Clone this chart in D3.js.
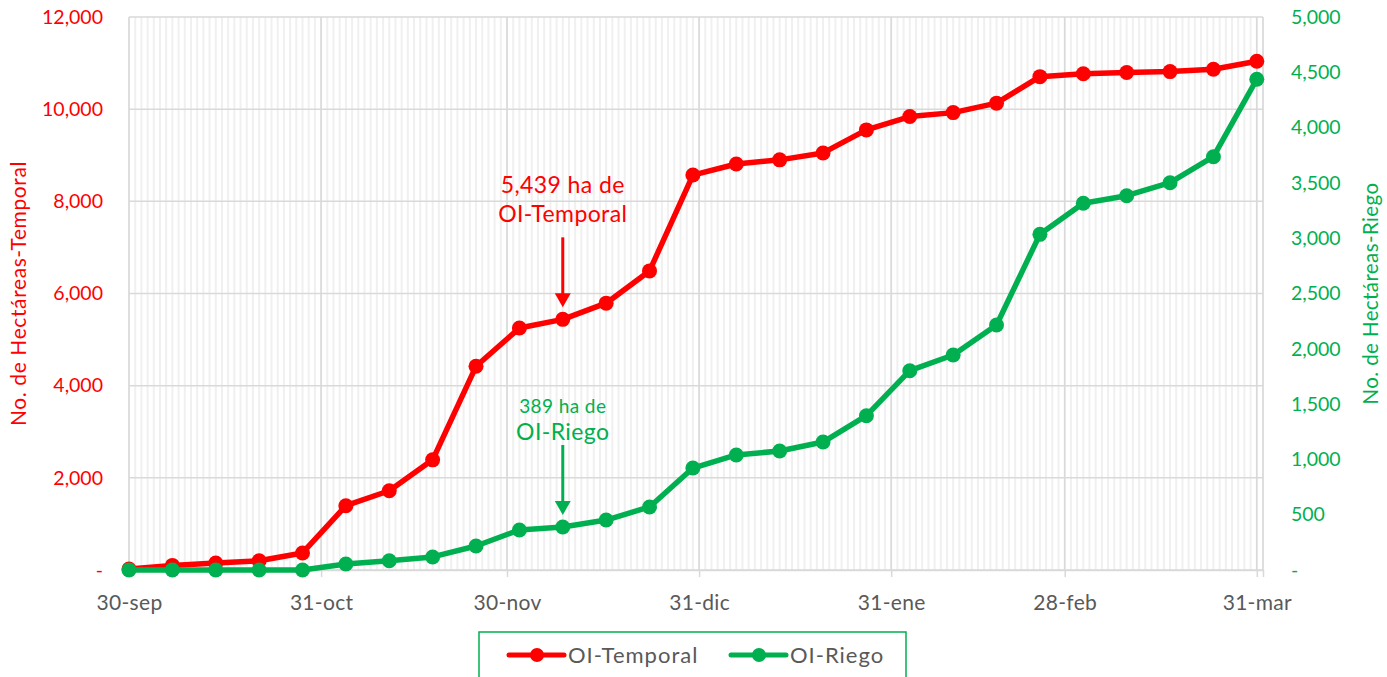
<!DOCTYPE html>
<html>
<head>
<meta charset="utf-8">
<script src="https://cdn.jsdelivr.net/npm/d3@7"></script>
<style>
  body { margin: 0; background: #fff; }
  svg text { font-family: Lato, "Noto Sans", sans-serif; }
</style>
</head>
<body>
<svg id="chart" width="1387" height="677"></svg>
<script>
// weekly cut-off dates of the season
const dates = ['2020-09-30','2020-10-07','2020-10-14','2020-10-21','2020-10-28','2020-11-04','2020-11-11',
  '2020-11-18','2020-11-25','2020-12-02','2020-12-09','2020-12-16','2020-12-23','2020-12-30',
  '2021-01-06','2021-01-13','2021-01-20','2021-01-27','2021-02-03','2021-02-10','2021-02-17',
  '2021-02-24','2021-03-03','2021-03-10','2021-03-17','2021-03-24','2021-03-31'];
const temporal = [20, 100, 150, 200, 370, 1395, 1720, 2390, 4420, 5250, 5439, 5790, 6490, 8570,
  8810, 8900, 9050, 9550, 9840, 9925, 10130, 10705, 10770, 10795, 10815, 10865, 11040];
const riego = [0, 0, 0, 0, 0, 54, 84, 118, 217, 362, 389, 452, 570, 922,
  1040, 1076, 1157, 1395, 1802, 1944, 2215, 3035, 3316, 3384, 3502, 3737, 4437];
const xTickDates = ['2020-09-30','2020-10-31','2020-11-30','2020-12-31','2021-01-31','2021-02-28','2021-03-31'];
const xTickLabels = ['30-sep','31-oct','30-nov','31-dic','31-ene','28-feb','31-mar'];
const leftTicks = [0, 2000, 4000, 6000, 8000, 10000, 12000];
const rightTicks = [0, 500, 1000, 1500, 2000, 2500, 3000, 3500, 4000, 4500, 5000];
const seriesNames = ['OI-Temporal', 'OI-Riego'];
const notes = [
  {series: 0, index: 10, lines: ['5,439 ha de', 'OI-Temporal']},
  {series: 1, index: 10, lines: ['389 ha de', 'OI-Riego']}
];

const RED = '#FF0000', GREEN = '#00B050', GREY = '#595959';
const parse = d3.timeParse('%Y-%m-%d');
const svg = d3.select('#chart');
const margin = {top: 17, left: 129, right: 124, bottom: 107};
const W = 1387 - margin.left - margin.right, H = 677 - margin.top - margin.bottom;
const g = svg.append('g').attr('transform', `translate(${margin.left},${margin.top})`);

const x = d3.scaleTime().domain([parse('2020-09-30'), parse('2021-04-01')]).range([0, W]);
const yL = d3.scaleLinear().domain([0, 12000]).range([H, 0]);
const yR = d3.scaleLinear().domain([0, 5000]).range([H, 0]);
const fmt = v => v === 0 ? '-' : d3.format(',')(v);

// daily minor gridlines
g.append('g').selectAll('line')
  .data(d3.timeDay.range(x.domain()[0], d3.timeDay.offset(x.domain()[1], 1)))
  .join('line')
  .attr('x1', d => x(d)).attr('x2', d => x(d)).attr('y1', 0).attr('y2', H)
  .attr('stroke', '#F0F0F0').attr('stroke-width', 2);

// horizontal gridlines
g.append('g').selectAll('line').data(leftTicks).join('line')
  .attr('x1', 0).attr('x2', W).attr('y1', d => yL(d)).attr('y2', d => yL(d))
  .attr('stroke', '#D9D9D9').attr('stroke-width', 1.5);

// major month gridlines
const majors = xTickDates.map(parse);
g.append('g').selectAll('line').data(majors.concat([x.domain()[1]])).join('line')
  .attr('x1', d => x(d)).attr('x2', d => x(d)).attr('y1', 0).attr('y2', H)
  .attr('stroke', '#D9D9D9').attr('stroke-width', 1.5);

// x axis
const xAxis = g.append('g').attr('transform', `translate(0,${H})`)
  .call(d3.axisBottom(x).tickValues(majors).tickFormat((d, i) => xTickLabels[i]).tickSize(7).tickPadding(18));
xAxis.select('.domain').attr('stroke', '#D9D9D9').attr('stroke-width', 1.5);
xAxis.selectAll('.tick line').attr('stroke', '#D9D9D9').attr('stroke-width', 1.5);
xAxis.selectAll('text').attr('fill', GREY).style('font-size', '21px').style('letter-spacing', '0.3px');

// left axis
const lAxis = g.append('g')
  .call(d3.axisLeft(yL).tickValues(leftTicks).tickFormat(fmt).tickSize(0).tickPadding(26));
lAxis.select('.domain').remove();
lAxis.selectAll('text').attr('fill', RED).style('font-size', '19.5px');

// right axis
const rAxis = g.append('g').attr('transform', `translate(${W},0)`)
  .call(d3.axisRight(yR).tickValues(rightTicks).tickFormat(fmt).tickSize(0).tickPadding(28));
rAxis.select('.domain').remove();
rAxis.selectAll('text').attr('fill', GREEN).style('font-size', '19.5px');

// axis titles
svg.append('text').attr('transform', `translate(26,${margin.top + H / 2}) rotate(-90)`)
  .attr('text-anchor', 'middle').attr('fill', RED).style('font-size', '21px').style('letter-spacing', '0.6px')
  .text('No. de Hectáreas-Temporal');
svg.append('text').attr('transform', `translate(1378,${margin.top + H / 2}) rotate(-90)`)
  .attr('text-anchor', 'middle').attr('fill', GREEN).style('font-size', '20.5px').style('letter-spacing', '0.4px')
  .text('No. de Hectáreas-Riego');

// series
const series = [
  {name: seriesNames[0], values: temporal, y: yL, color: RED},
  {name: seriesNames[1], values: riego, y: yR, color: GREEN}
];
series.forEach(s => {
  const pts = dates.map((d, i) => [x(parse(d)), s.y(s.values[i])]);
  g.append('path').attr('d', d3.line()(pts))
    .attr('fill', 'none').attr('stroke', s.color).attr('stroke-width', 5.5)
    .attr('stroke-linejoin', 'round');
  g.append('g').selectAll('circle').data(pts).join('circle')
    .attr('cx', d => d[0]).attr('cy', d => d[1]).attr('r', 7.5).attr('fill', s.color);
});

// annotations with arrows
const noteStyle = [
  {sizes: [23, 23], gaps: [44, 15]},
  {sizes: [19, 23], gaps: [32, 5]}
];
notes.forEach((n, j) => {
  const s = series[n.series], st = noteStyle[j];
  const px = x(parse(dates[n.index])), py = s.y(s.values[n.index]);
  const tipY = py - 12, tailY = tipY - 70;
  g.append('line').attr('x1', px).attr('x2', px).attr('y1', tailY).attr('y2', tipY - 10)
    .attr('stroke', s.color).attr('stroke-width', 3);
  g.append('path').attr('d', `M${px - 8},${tipY - 14}L${px + 8},${tipY - 14}L${px},${tipY}Z`).attr('fill', s.color);
  n.lines.forEach((t, k) => {
    g.append('text').attr('x', px).attr('y', tailY - st.gaps[k])
      .attr('text-anchor', 'middle').attr('fill', s.color).style('font-size', st.sizes[k] + 'px')
      .style('letter-spacing', '0.4px').text(t);
  });
});

// legend
const lg = svg.append('g').attr('transform', 'translate(479,632)');
lg.append('rect').attr('width', 427).attr('height', 60).attr('fill', '#fff')
  .attr('stroke', GREEN).attr('stroke-width', 1.5);
const items = [{x: 30, s: series[0]}, {x: 252, s: series[1]}];
items.forEach(it => {
  lg.append('line').attr('x1', it.x).attr('x2', it.x + 55).attr('y1', 23).attr('y2', 23)
    .attr('stroke', it.s.color).attr('stroke-width', 5).attr('stroke-linecap', 'round');
  lg.append('circle').attr('cx', it.x + 28).attr('cy', 23).attr('r', 7).attr('fill', it.s.color);
  lg.append('text').attr('x', it.x + 59).attr('y', 31).attr('fill', GREY)
    .style('font-size', '22px').style('letter-spacing', '1px').text(it.s.name);
});
</script>
</body>
</html>
